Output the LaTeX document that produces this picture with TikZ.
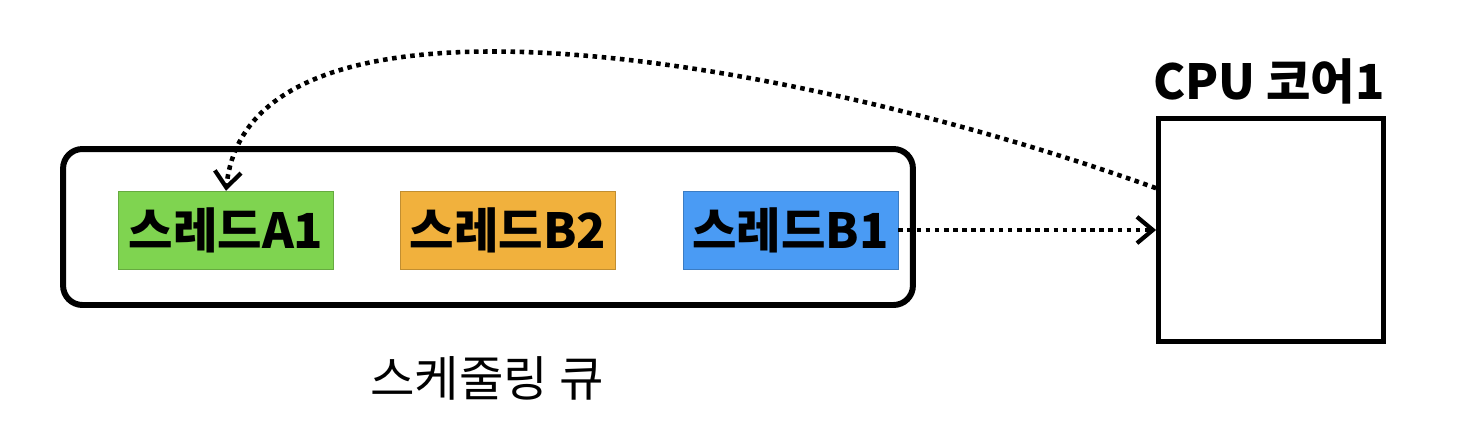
\documentclass[tikz,border=0pt]{standalone}
\usepackage{fontspec}
\setmainfont{Noto Sans CJK KR}
\usetikzlibrary{arrows.meta}
\usepackage{xcolor}
\definecolor{threadgreen}{RGB}{127,212,80}
\definecolor{threadorange}{RGB}{241,177,61}
\definecolor{threadblue}{RGB}{74,155,244}

\begin{document}
\begin{tikzpicture}[x=0.02cm, y=-0.02cm,
  thread/.style={minimum width=4.3cm, minimum height=1.56cm, inner sep=0pt, font=\fontsize{27.5}{30}\selectfont\bfseries},
  flow/.style={line width=2.6pt, dash pattern=on 2.6pt off 2.6pt, -{Straight Barb[length=9pt, width=15pt, line width=2.4pt]}}]
\useasboundingbox (0,0) rectangle (1476,434);
%queue and core
\node[draw, line width=3.4pt, rounded corners=11pt, minimum width=17cm, minimum height=3.12cm] (queue) at (488,227) {};
\node[draw, line width=2.8pt, minimum width=4.5cm, minimum height=4.46cm] (cpu) at (1271,230) {};
%threads
\node[thread, fill=threadgreen, draw=threadgreen!80!black, line width=0.3pt] (a1) at (226,230) {스레드A1};
\node[thread, fill=threadorange, draw=threadorange!80!black, line width=0.3pt] (b2) at (508,230) {스레드B2};
\node[thread, fill=threadblue, draw=threadblue!80!black, line width=0.3pt] (b1) at (790.5,230) {스레드B1};
%labels
\node[font=\fontsize{27.5}{30}\selectfont\bfseries] (cpulabel) at (1269,81) {CPU 코어1};
\node[font=\fontsize{27.5}{30}\selectfont] (queuelabel) at (487,378) {스케줄링 큐};
%dispatch and return
\draw[flow] (b1.east) -- (cpu.west);
\draw[flow] (cpu.160) .. controls (800,60) and (250,-40) .. (a1.north);
\end{tikzpicture}
\end{document}
